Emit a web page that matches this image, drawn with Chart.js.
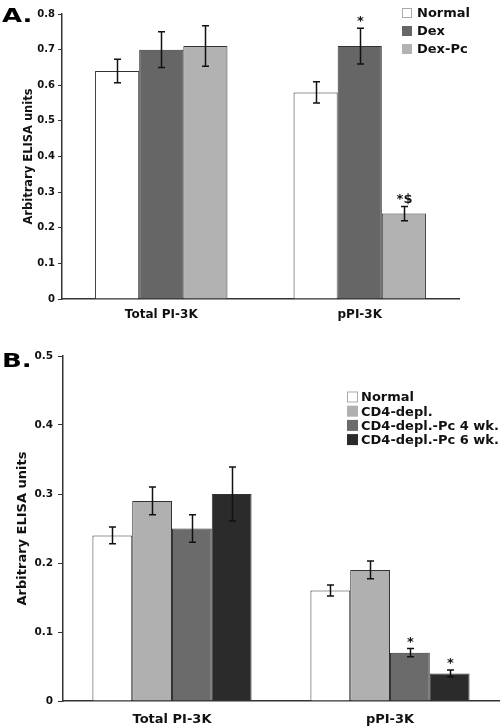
<!DOCTYPE html>
<html>
<head>
<meta charset="utf-8">
<script src="https://cdn.jsdelivr.net/npm/chart.js@4.4.1/dist/chart.umd.min.js"></script>
<style>
  html, body { margin: 0; padding: 0; background: #fff; }
  body { width: 500px; height: 728px; position: relative; overflow: hidden; }
  .panel { position: absolute; left: 0; width: 500px; }
  .panel canvas { display: block; }
  .tag {
    position: absolute; left: 2px; color: #000;
    font: bold 20px/20px 'DejaVu Sans', sans-serif;
    transform: scaleX(1.3); transform-origin: 0 0;
  }
</style>
</head>
<body>
<div class="panel" style="top:0;height:340px"><canvas id="chartA" width="500" height="340"></canvas></div>
<div class="panel" style="top:340px;height:388px"><canvas id="chartB" width="500" height="388"></canvas></div>
<div class="tag" style="top:5px">A.</div>
<div class="tag" style="top:350px">B.</div>
<script>
// ---- data ----
const CATEGORIES = ['Total PI-3K', 'pPI-3K'];

// panel A
const A_NORMAL = [0.64, 0.58];
const A_NORMAL_ERR = [0.033, 0.03];
const A_DEX = [0.70, 0.71];
const A_DEX_ERR = [0.05, 0.05];
const A_DEXPC = [0.71, 0.24];
const A_DEXPC_ERR = [0.057, 0.02];
const A_DEX_MARKS = ['', '*'];
const A_DEXPC_MARKS = ['', '*$'];

// panel B
const B_NORMAL = [0.24, 0.16];
const B_NORMAL_ERR = [0.012, 0.008];
const B_CD4 = [0.29, 0.19];
const B_CD4_ERR = [0.02, 0.013];
const B_PC4 = [0.25, 0.07];
const B_PC4_ERR = [0.02, 0.006];
const B_PC6 = [0.30, 0.04];
const B_PC6_ERR = [0.039, 0.005];
const B_PC4_MARKS = ['', '*'];
const B_PC6_MARKS = ['', '*'];

const Y_TITLE = 'Arbitrary ELISA units';

Chart.defaults.font.family = "'DejaVu Sans', Verdana, sans-serif";
Chart.defaults.color = '#111';

// error bars + significance marks drawn on top of the bars
const errorBars = {
  id: 'errorBars',
  afterDatasetsDraw(chart, args, opts) {
    const { ctx } = chart;
    const y = chart.scales.y;
    ctx.save();
    ctx.strokeStyle = '#111';
    ctx.fillStyle = '#111';
    ctx.lineWidth = 1.5;
    ctx.font = `bold ${opts.markSize}px 'DejaVu Sans', sans-serif`;
    ctx.textAlign = 'center';
    ctx.textBaseline = 'alphabetic';
    chart.data.datasets.forEach((ds, i) => {
      if (!ds.errors) return;
      chart.getDatasetMeta(i).data.forEach((bar, j) => {
        const v = ds.data[j];
        const e = ds.errors[j];
        const top = y.getPixelForValue(v + e);
        const bottom = y.getPixelForValue(v - e);
        const x = Math.round(bar.x) + 0.5;
        ctx.beginPath();
        ctx.moveTo(x, top); ctx.lineTo(x, bottom);
        ctx.moveTo(x - 3.5, top); ctx.lineTo(x + 3.5, top);
        ctx.moveTo(x - 3.5, bottom); ctx.lineTo(x + 3.5, bottom);
        ctx.stroke();
        const mark = ds.marks && ds.marks[j];
        if (mark) ctx.fillText(mark, x, top - 3);
      });
    });
    ctx.restore();
  }
};

// swatch legend placed inside the plot
const boxLegend = {
  id: 'boxLegend',
  afterDraw(chart, args, opts) {
    const { ctx } = chart;
    ctx.save();
    ctx.font = `bold ${opts.fontSize}px 'DejaVu Sans', sans-serif`;
    ctx.textBaseline = 'middle';
    ctx.textAlign = 'left';
    chart.data.datasets.forEach((ds, i) => {
      const cy = opts.y + i * opts.row;
      ctx.fillStyle = ds.backgroundColor;
      ctx.fillRect(opts.x, cy - opts.box / 2, opts.box, opts.box);
      if (ds.backgroundColor === '#ffffff') {
        ctx.strokeStyle = '#aaa';
        ctx.lineWidth = 1;
        ctx.strokeRect(opts.x + 0.5, cy - opts.box / 2 + 0.5, opts.box - 1, opts.box - 1);
      }
      ctx.fillStyle = '#111';
      ctx.fillText(ds.label, opts.textX, cy + 1);
    });
    ctx.restore();
  }
};

function barSet(label, data, errors, color, marks) {
  return {
    label, data, errors, marks,
    backgroundColor: color,
    borderColor: '#333',
    borderWidth: 1,
  };
}

function makeChart(canvas, cfg) {
  return new Chart(canvas, {
    type: 'bar',
    data: { labels: CATEGORIES, datasets: cfg.datasets },
    plugins: [errorBars, boxLegend],
    options: {
      responsive: false,
      animation: false,
      layout: { padding: cfg.padding },
      datasets: { bar: { categoryPercentage: cfg.groupWidth, barPercentage: 1 } },
      scales: {
        x: {
          grid: { display: false, drawTicks: false },
          border: { color: '#333', width: 1.5 },
          ticks: { padding: cfg.xPad, font: { size: cfg.xFont, weight: 'bold' }, color: '#111' },
          afterFit: (s) => { s.height = cfg.xHeight; },
        },
        y: {
          min: 0,
          max: cfg.yMax,
          ticks: {
            stepSize: 0.1,
            padding: cfg.tickPad,
            font: { size: cfg.tickFont, weight: 'bold' },
            color: '#111',
            callback: (v) => (v === 0 ? '0' : v.toFixed(1)),
          },
          grid: { drawOnChartArea: false, drawTicks: true, tickLength: cfg.tickLen, color: '#333' },
          border: { color: '#333', width: 1.5 },
          title: {
            display: true,
            text: Y_TITLE,
            font: { size: cfg.titleFont, weight: 'bold' },
            color: '#111',
            padding: { top: cfg.titlePad, bottom: 0 },
          },
          afterFit: (s) => { s.width = cfg.yWidth; },
        },
      },
      plugins: {
        legend: { display: false },
        tooltip: { enabled: false },
        errorBars: { markSize: 13 },
        boxLegend: cfg.legend,
      },
    },
  });
}

makeChart(document.getElementById('chartA'), {
  datasets: [
    barSet('Normal', A_NORMAL, A_NORMAL_ERR, '#ffffff'),
    barSet('Dex', A_DEX, A_DEX_ERR, '#666666', A_DEX_MARKS),
    barSet('Dex-Pc', A_DEXPC, A_DEXPC_ERR, '#b2b2b2', A_DEXPC_MARKS),
  ],
  padding: { left: 0, right: 41, top: 14, bottom: 0 },
  groupWidth: 0.667,
  yMax: 0.8,
  xHeight: 41, xPad: 9, xFont: 12,
  yWidth: 62, tickPad: 3, tickLen: 4, tickFont: 10,
  titleFont: 11.5, titlePad: 22,
  legend: { x: 402, y: 13, row: 18, box: 10, textX: 417, fontSize: 13 },
});

makeChart(document.getElementById('chartB'), {
  datasets: [
    barSet('Normal', B_NORMAL, B_NORMAL_ERR, '#ffffff'),
    barSet('CD4-depl.', B_CD4, B_CD4_ERR, '#b0b0b0'),
    barSet('CD4-depl.-Pc 4 wk.', B_PC4, B_PC4_ERR, '#6b6b6b', B_PC4_MARKS),
    barSet('CD4-depl.-Pc 6 wk.', B_PC6, B_PC6_ERR, '#2b2b2b', B_PC6_MARKS),
  ],
  padding: { left: 0, right: 1, top: 16, bottom: 0 },
  groupWidth: 0.73,
  yMax: 0.5,
  xHeight: 27, xPad: 11, xFont: 13,
  yWidth: 63, tickPad: 5, tickLen: 5, tickFont: 10.5,
  titleFont: 13, titlePad: 15,
  legend: { x: 347, y: 57, row: 14.2, box: 11, textX: 361, fontSize: 13 },
});
</script>
</body>
</html>
